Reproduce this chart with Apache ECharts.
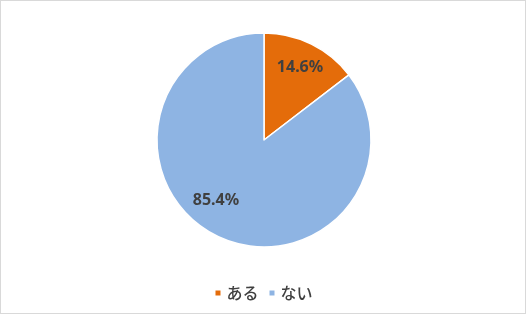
<!DOCTYPE html>
<html><head><meta charset="utf-8">
<script src="https://cdn.jsdelivr.net/npm/echarts@6/dist/echarts.min.js"></script>
<style>
html,body{margin:0;padding:0;background:#fff;}
#wrap{position:absolute;left:0;top:0;width:524px;height:312px;border:1px solid #D9D9D9;}
#c{width:524px;height:312px;}
</style></head>
<body><div id="wrap"><div id="c"></div></div>
<script>
const categories = ['ある', 'ない'];
const values = [14.6, 85.4];
const colors = ['#E46C0A', '#8EB4E3'];
const labelOffsets = [[11, -22], [-23, 10]];

const chart = echarts.init(document.getElementById('c'), null, {renderer: 'canvas'});
chart.setOption({
  animation: false,
  backgroundColor: '#fff',
  legend: {
    bottom: 7,
    left: 'center',
    icon: 'rect',
    itemWidth: 7,
    itemHeight: 7,
    itemGap: 9,
    data: categories,
    textStyle: {fontSize: 16, color: '#404040', fontFamily: 'Noto Sans CJK JP', fontWeight: 500}
  },
  series: [{
    type: 'pie',
    center: [263, 139],
    radius: 107,
    startAngle: 90,
    clockwise: true,
    itemStyle: {borderColor: '#fff', borderWidth: 1.5},
    label: {
      show: true,
      position: 'inside',
      formatter: p => p.value.toFixed(1) + '%',
      fontSize: 16,
      fontWeight: 'bold',
      color: '#404040',
      fontFamily: 'Noto Sans, sans-serif'
    },
    labelLine: {show: false},
    data: categories.map((n, i) => ({
      name: n, value: values[i],
      itemStyle: {color: colors[i]},
      label: {offset: labelOffsets[i]}
    }))
  }]
});
</script></body></html>
